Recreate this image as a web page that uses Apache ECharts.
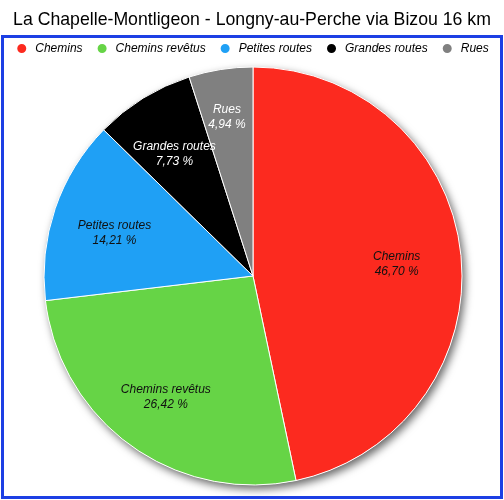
<!DOCTYPE html>
<html>
<head>
<meta charset="utf-8">
<script src="https://cdn.jsdelivr.net/npm/echarts@6/dist/echarts.min.js"></script>
<style>
  html, body { margin: 0; padding: 0; background: #fff; }
  #chart { width: 504px; height: 500px; }
</style>
</head>
<body>
<div id="chart"></div>
<script>
// données du graphique
var titre = 'La Chapelle-Montligeon - Longny-au-Perche via Bizou 16 km'
var categories = ['Chemins', 'Chemins revêtus', 'Petites routes', 'Grandes routes', 'Rues']
var pourcentages = [46.70, 26.42, 14.21, 7.73, 4.94]

var couleurs = ['#fc2a1f', '#66d446', '#1fa0f5', '#000000', '#808080']
var couleursTexte = ['#111', '#111', '#111', '#fff', '#fff']
// petits décalages des étiquettes [dx, dy]
var decalages = [[-5, 4], [0, 0], [3, 5], [0, 5], [-3, -11]]

var myChart = echarts.init(document.getElementById('chart'))

var centre = [253, 276]
var rayon = 209

var donnees = categories.map(function (nom, i) {
  return { name: nom, value: pourcentages[i], itemStyle: { color: couleurs[i] } }
})
// série transparente qui porte juste les étiquettes (placées à ~0.7 du rayon)
var etiquettes = categories.map(function (nom, i) {
  return { name: nom, value: pourcentages[i], label: { color: couleursTexte[i] } }
})

var option = {
  animation: false,
  title: {
    text: titre,
    left: 'center',
    top: 6,
    textStyle: { fontFamily: 'Liberation Sans', fontSize: 17.7, fontWeight: 'normal', color: '#000' }
  },
  legend: {
    data: categories,
    top: 42,
    left: 'center',
    padding: 0,
    icon: 'circle',
    itemWidth: 11,
    itemHeight: 11,
    itemGap: 13,
    selectedMode: false,
    textStyle: { fontFamily: 'Liberation Sans', fontStyle: 'italic', fontSize: 12, color: '#000', padding: [0, 0, 0, 3] }
  },
  graphic: [{
    type: 'rect',
    shape: { x: 2.5, y: 36.5, width: 499, height: 461 },
    style: { fill: 'none', stroke: '#1c3fe4', lineWidth: 3 },
    z: 100
  }],
  series: [
    {
      // ombre sous le camembert
      type: 'pie',
      center: centre,
      radius: [0, rayon],
      silent: true,
      z: 1,
      label: { show: false },
      data: [{ value: 1, itemStyle: { color: '#fff', shadowBlur: 8, shadowOffsetX: 3, shadowOffsetY: 4, shadowColor: 'rgba(0,0,0,0.6)' } }]
    },
    {
      name: 'Répartition',
      type: 'pie',
      center: centre,
      radius: [0, rayon],
      startAngle: 90,
      clockwise: true,
      z: 2,
      label: { show: false },
      labelLine: { show: false },
      itemStyle: { borderColor: '#fff', borderWidth: 1 },
      data: donnees
    },
    {
      type: 'pie',
      center: centre,
      radius: [84, rayon],
      startAngle: 90,
      clockwise: true,
      silent: true,
      avoidLabelOverlap: false,
      minShowLabelAngle: 0,
      z: 3,
      itemStyle: { color: 'rgba(0,0,0,0)' },
      label: {
        show: true,
        position: 'inside',
        fontFamily: 'Liberation Sans',
        fontStyle: 'italic',
        fontSize: 12,
        lineHeight: 15,
        formatter: function (p) {
          return p.name + '\n' + p.value.toFixed(2).replace('.', ',') + ' %'
        }
      },
      labelLayout: function (p) {
        var d = decalages[p.dataIndex]
        return { hideOverlap: false, dx: d[0], dy: d[1] }
      },
      labelLine: { show: false },
      data: etiquettes
    }
  ]
}

myChart.setOption(option)
</script>
</body>
</html>
